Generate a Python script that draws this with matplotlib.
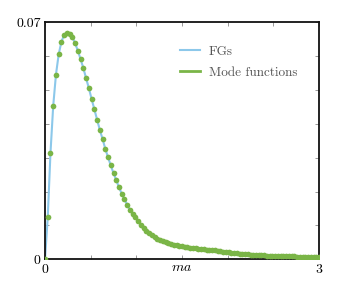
import matplotlib
matplotlib.use("Agg")
import matplotlib.pyplot as plt
import numpy as np

plt.rcParams['font.family'] = ['cmr10', 'DejaVu Serif']
plt.rcParams['mathtext.fontset'] = 'cm'
plt.rcParams['axes.formatter.use_mathtext'] = True

# sample points, step 0.03 in ma
ma = [round(0.03 * k, 2) for k in range(101)]
amp = [
    0.0, 0.0124, 0.0314, 0.0453, 0.0545, 0.0605, 0.0642, 0.0662, 0.0668, 0.0665,
    0.0655, 0.0637, 0.0615, 0.0590, 0.0564, 0.0534, 0.0505, 0.0473, 0.0443, 0.0412,
    0.0382, 0.0355, 0.0326, 0.0301, 0.0277, 0.0254, 0.0234, 0.0212, 0.0194, 0.0177,
    0.0161, 0.0146, 0.0134, 0.0124, 0.0113, 0.0102, 0.0092, 0.0084, 0.0077, 0.0071,
    0.0065, 0.0061, 0.0057, 0.0053, 0.0050, 0.0047, 0.0045, 0.0043, 0.0041, 0.0040,
    0.0038, 0.0037, 0.0035, 0.0034, 0.0033, 0.0032, 0.0031, 0.0030, 0.0029, 0.0028,
    0.0028, 0.0027, 0.0026, 0.0025, 0.0024, 0.0023, 0.0022, 0.0021, 0.0020, 0.0019,
    0.0018, 0.0017, 0.0016, 0.0015, 0.0015, 0.0014, 0.0014, 0.0013, 0.0013, 0.0012,
    0.0012, 0.0011, 0.0011, 0.0011, 0.0010, 0.0010, 0.0010, 0.0010, 0.0009, 0.0009,
    0.0009, 0.0009, 0.0008, 0.0008, 0.0008, 0.0008, 0.0008, 0.0007, 0.0007, 0.0007,
    0.0007,
]

fig = plt.figure(figsize=(3.53, 2.94), dpi=100)
ax = fig.add_axes([45 / 353, 1 - 259.3 / 294, 274 / 353, 237.3 / 294])

blue = "#8cc8ea"
green = "#7ab547"

ax.plot(ma, amp, color=blue, lw=1.5, label="FGs", zorder=2)
ax.plot(ma, amp, "o", color=green, ms=4.1, mec="none", zorder=3)
# legend handle for the mode functions (drawn as a line)
ax.plot([], [], color=green, lw=2.0, label="Mode functions")

ax.set_xlim(0, 3)
ax.set_ylim(0, 0.07)
ax.set_xticks(np.arange(0, 3.01, 0.5))
ax.set_xticklabels(["0", "", "", "", "", "", "3"])
ax.set_yticks(np.arange(0, 0.0701, 0.01))
ax.set_yticklabels(["0", "", "", "", "", "", "", "0.07"])
ax.tick_params(direction="in", length=3, width=0.6, color="#888888",
               top=True, right=True, labelsize=10, pad=3)
for s in ax.spines.values():
    s.set_linewidth(1.3)
    s.set_color("#111111")

ax.set_xlabel(r"$ma$", fontsize=10, labelpad=-10)

leg = ax.legend(loc="upper right", bbox_to_anchor=(0.965, 0.952), frameon=False,
                fontsize=9.5, handlelength=1.5, handletextpad=0.7, labelspacing=0.7)
for t in leg.get_texts():
    t.set_color("#555555")

fig.savefig("out.png", dpi=100)
